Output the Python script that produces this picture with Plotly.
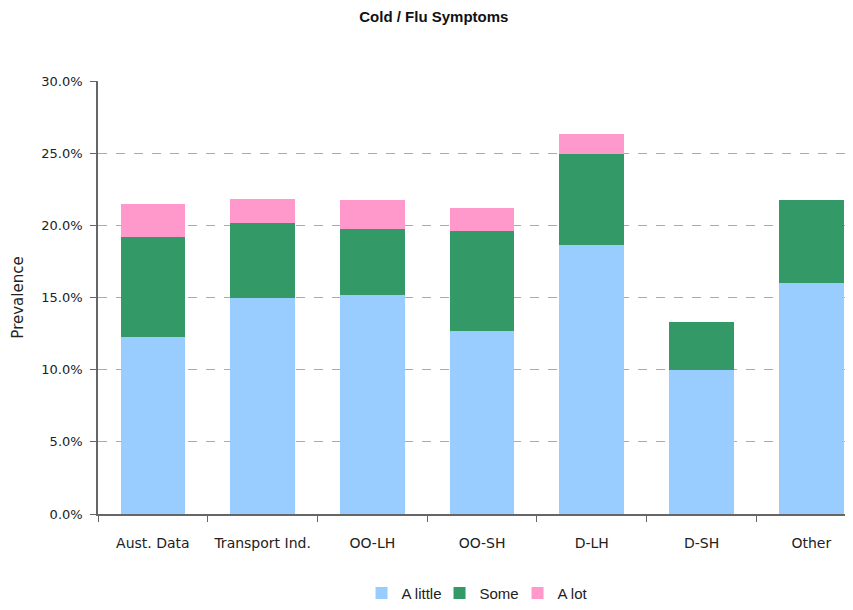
import plotly.graph_objects as go

categories = ["Aust. Data", "Transport Ind.", "OO-LH", "OO-SH", "D-LH", "D-SH", "Other"]
a_little = [0.123, 0.150, 0.152, 0.127, 0.1865, 0.100, 0.160]
some = [0.069, 0.052, 0.0455, 0.0695, 0.0633, 0.0335, 0.0575]
a_lot = [0.023, 0.0165, 0.020, 0.016, 0.0138, 0.0, 0.0]
y_ticks = [0, 0.05, 0.10, 0.15, 0.20, 0.25, 0.30]

font_family = "DejaVu Sans"
text_color = "#222222"

fig = go.Figure()
fig.add_trace(go.Bar(name="A little", x=categories, y=a_little, marker=dict(color="#99CCFF", line=dict(width=0))))
fig.add_trace(go.Bar(name="Some", x=categories, y=some, marker=dict(color="#339966", line=dict(width=0))))
fig.add_trace(go.Bar(name="A lot", x=categories, y=a_lot, marker=dict(color="#FF99CC", line=dict(width=0))))

fig.update_layout(
    barmode="stack",
    bargap=0.41,
    width=845,
    height=602,
    margin=dict(l=90, r=0, t=73, b=93),
    paper_bgcolor="white",
    plot_bgcolor="white",
    font=dict(family=font_family, size=13, color=text_color),
    title=dict(text="<b>Cold / Flu Symptoms</b>", x=0.504, xref="container", xanchor="center",
               y=1, yanchor="top", pad=dict(t=3),
               font=dict(family="Liberation Sans", size=15, color="#111111")),
    legend=dict(orientation="h", x=0.504, xanchor="center", y=-0.183, yanchor="middle",
                font=dict(family="Liberation Sans", size=15, color=text_color),
                traceorder="normal", itemwidth=30,
                entrywidth=33, entrywidthmode="pixels"),
    showlegend=True,
)
fig.update_xaxes(
    type="category",
    range=[-0.5, 6.38],
    showline=True, linecolor="#666666", linewidth=1.5,
    ticks="outside", tickson="boundaries", ticklen=6, tickcolor="#666666",
    showgrid=False,
    ticklabelstandoff=15,
    tickfont=dict(size=14, color=text_color),
)
fig.update_yaxes(
    range=[0, 0.3003],
    tickvals=y_ticks,
    tickformat=".1%",
    showline=True, linecolor="#666666", linewidth=1.5,
    ticks="outside", ticklen=6, tickcolor="#666666",
    showgrid=True, gridcolor="#AAAAAA", griddash="dash", gridwidth=1,
    zeroline=False,
    ticklabelstandoff=5,
    title=dict(text="Prevalence", font=dict(size=15, color=text_color), standoff=14),
    tickfont=dict(size=13, color=text_color),
)

fig.write_html("out.html")
